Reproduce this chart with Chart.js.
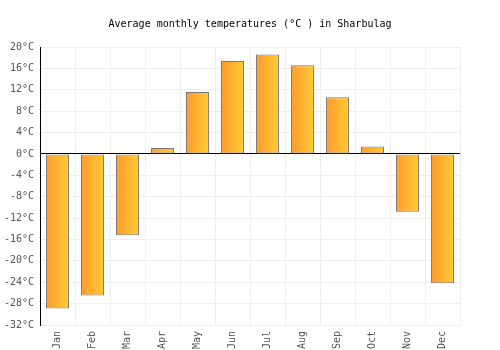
<!DOCTYPE html>
<html><head><meta charset="utf-8">
<script src="https://cdn.jsdelivr.net/npm/chart.js@4/dist/chart.umd.min.js"></script>
<style>html,body{margin:0;padding:0;background:#fff}#wrap{width:500px;height:350px}</style>
</head><body><div id="wrap"><canvas id="c" width="500" height="350"></canvas></div>
<script>
const months = ["Jan","Feb","Mar","Apr","May","Jun","Jul","Aug","Sep","Oct","Nov","Dec"];
const temps = [-28.9,-26.5,-15.2,1.1,11.6,17.4,18.6,16.6,10.6,1.4,-10.8,-24.2];
const yMin = -32, yMax = 20, yStep = 4;
const titleText = "Average monthly temperatures (°C ) in Sharbulag";
const FONT = "'DejaVu Sans Mono', monospace";
const BAR_PCT = 0.66;

function barGradient(ctx){
  const chart = ctx.chart;
  const xs = chart.scales && chart.scales.x;
  if (!xs || ctx.dataIndex === undefined) return '#ffb030';
  const cx = xs.getPixelForValue(ctx.dataIndex);
  const w = (xs.width / months.length) * BAR_PCT;
  if (!isFinite(cx) || !isFinite(w) || w <= 0) return '#ffb030';
  const g = chart.ctx.createLinearGradient(cx - w/2, 0, cx + w/2, 0);
  g.addColorStop(0, '#ff9a2e');
  g.addColorStop(1, '#ffcc33');
  return g;
}

new Chart(document.getElementById('c'), {
  type: 'bar',
  data: { labels: months, datasets: [{
    data: temps,
    backgroundColor: barGradient,
    borderColor: '#777',
    borderWidth: 1,
    borderSkipped: false,
    barPercentage: BAR_PCT,
    categoryPercentage: 1
  }]},
  options: {
    responsive: false, animation: false,
    layout: { padding: { left: 0, right: 0, top: 8, bottom: 0 } },
    plugins: {
      legend: { display: false }, tooltip: { enabled: false },
      title: { display: true, text: titleText, color: '#000',
        font: { family: FONT, size: 10, weight: 'normal' }, padding: { top: 10, bottom: 17 } }
    },
    scales: {
      x: {
        grid: { color: '#eeeeee', offset: true, drawTicks: false },
        border: { color: '#eeeeee' },
        ticks: { color: '#555', font: { family: FONT, size: 10 }, maxRotation: 90, minRotation: 90, padding: 6 },
        afterFit: (s) => { s.height = 25; }
      },
      y: {
        min: yMin, max: yMax,
        grid: { color: (c) => c.tick && c.tick.value === 0 ? '#000' : '#eeeeee', drawTicks: false },
        border: { color: '#000' },
        ticks: { stepSize: yStep, color: '#555', font: { family: FONT, size: 10 }, padding: 6,
          callback: (v) => v + '°C' },
        afterFit: (s) => { s.width = 40; }
      },
      y2: {
        position: 'right', min: yMin, max: yMax,
        grid: { display: false, drawTicks: false },
        border: { display: false },
        ticks: { display: false },
        afterFit: (s) => { s.width = 40; }
      }
    }
  }
});
</script></body></html>
